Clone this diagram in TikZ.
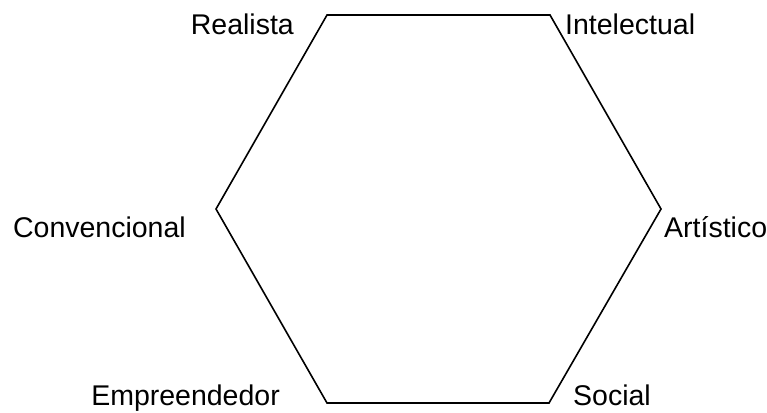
\documentclass[tikz,border=0pt]{standalone}
\usepackage{fontspec}
\setmainfont{Liberation Sans}
\usetikzlibrary{positioning}

\begin{document}
\begin{tikzpicture}[x=1pt,y=-1pt,
	edge/.style={draw=black,line width=1.6pt,line join=miter},
	tipo/.style={font=\fontsize{28.5}{30}\selectfont,inner sep=0pt},
	]
	\useasboundingbox (0,0) rectangle (767,412);
	% corners of the hexagon
	\coordinate (real) at (327,15);
	\coordinate (inte) at (550,15);
	\coordinate (arti) at (661,209);
	\coordinate (soci) at (549,403);
	\coordinate (empr) at (327,403);
	\coordinate (conv) at (216,209);
	\draw[edge] (real) -- (inte) -- (arti) -- (soci) -- (empr) -- (conv) -- cycle;
	
	% labels
	\node[tipo,anchor=base east] (realista) at (294,35) {Realista};
	\node[tipo,anchor=base west] (intelectual) at (565,35) {Intelectual};
	\node[tipo,anchor=base east] (convencional) at (186,237) {Convencional};
	\node[tipo,anchor=base west] (artistico) at (664,237) {Artístico};
	\node[tipo,anchor=base east] (empreendedor) at (280,405) {Empreendedor};
	\node[tipo,anchor=base west] (social) at (573,405) {Social};
\end{tikzpicture}
\end{document}
